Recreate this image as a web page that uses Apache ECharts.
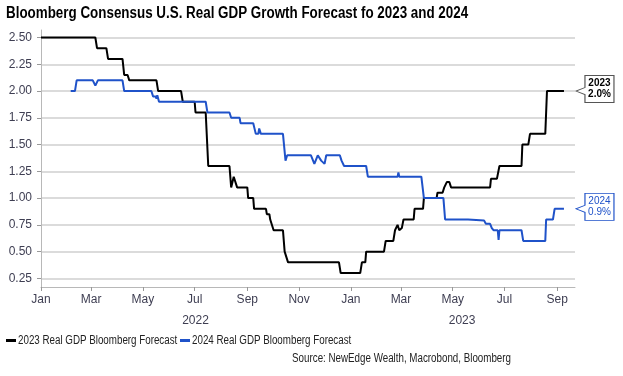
<!DOCTYPE html>
<html>
<head>
<meta charset="utf-8">
<script src="https://cdn.jsdelivr.net/npm/echarts@6/dist/echarts.min.js"></script>
<style>
  html, body { margin: 0; padding: 0; background: #fff; }
  #main { width: 623px; height: 376px; }
</style>
</head>
<body>
<div id="main"></div>
<script>
// consensus forecasts (step data)
var seriesNames = ['2023 Real GDP Bloomberg Forecast', '2024 Real GDP Bloomberg Forecast'];
var calloutYears = ['2023', '2024'];

var gdp2023 = [
  ['2022-01-01', 2.5], ['2022-03-06', 2.5], ['2022-03-08', 2.4], ['2022-03-19', 2.4], ['2022-03-21', 2.3],
  ['2022-04-07', 2.3], ['2022-04-09', 2.15], ['2022-04-13', 2.15], ['2022-04-15', 2.1],
  ['2022-05-17', 2.1], ['2022-05-19', 2.0], ['2022-06-15', 2.0], ['2022-06-17', 1.9],
  ['2022-07-01', 1.9], ['2022-07-02', 1.8], ['2022-07-14', 1.8], ['2022-07-17', 1.3],
  ['2022-08-11', 1.3], ['2022-08-13', 1.1], ['2022-08-15', 1.1], ['2022-08-16', 1.2], ['2022-08-18', 1.2], ['2022-08-20', 1.1],
  ['2022-09-01', 1.1], ['2022-09-02', 1.0], ['2022-09-08', 1.0], ['2022-09-09', 0.9],
  ['2022-09-23', 0.9], ['2022-09-24', 0.85], ['2022-09-27', 0.85], ['2022-09-28', 0.8], ['2022-09-30', 0.8], ['2022-10-02', 0.7],
  ['2022-10-13', 0.7], ['2022-10-15', 0.5], ['2022-10-17', 0.5], ['2022-10-19', 0.4],
  ['2022-12-18', 0.4], ['2022-12-20', 0.3], ['2023-01-12', 0.3], ['2023-01-14', 0.4], ['2023-01-18', 0.4], ['2023-01-19', 0.5],
  ['2023-02-09', 0.5], ['2023-02-11', 0.6], ['2023-02-20', 0.6], ['2023-02-22', 0.7], ['2023-02-24', 0.7], ['2023-02-25', 0.75],
  ['2023-02-27', 0.7], ['2023-03-02', 0.72], ['2023-03-04', 0.8], ['2023-03-16', 0.8], ['2023-03-17', 0.9],
  ['2023-03-27', 0.9], ['2023-03-28', 1.0], ['2023-04-12', 1.0], ['2023-04-13', 1.05], ['2023-04-19', 1.05], ['2023-04-21', 1.1],
  ['2023-04-24', 1.15], ['2023-04-27', 1.15], ['2023-04-29', 1.1], ['2023-06-14', 1.1], ['2023-06-15', 1.18],
  ['2023-06-22', 1.18], ['2023-06-25', 1.3], ['2023-07-21', 1.3], ['2023-07-22', 1.5], ['2023-07-29', 1.5], ['2023-07-31', 1.6],
  ['2023-08-18', 1.6], ['2023-08-20', 2.0], ['2023-09-09', 2.0]
];

var gdp2024 = [
  ['2022-02-05', 2.0], ['2022-02-10', 2.0], ['2022-02-12', 2.1], ['2022-03-03', 2.1], ['2022-03-06', 2.05], ['2022-03-09', 2.1],
  ['2022-04-07', 2.1], ['2022-04-09', 2.0], ['2022-05-11', 2.0], ['2022-05-13', 1.95], ['2022-05-16', 1.95], ['2022-05-17', 1.93],
  ['2022-05-18', 1.96], ['2022-05-20', 1.9], ['2022-07-14', 1.9], ['2022-07-16', 1.8], ['2022-08-11', 1.8], ['2022-08-13', 1.75],
  ['2022-08-23', 1.75], ['2022-08-24', 1.7], ['2022-09-08', 1.7], ['2022-09-11', 1.6], ['2022-09-14', 1.6], ['2022-09-15', 1.65],
  ['2022-09-17', 1.6], ['2022-10-13', 1.6], ['2022-10-16', 1.35], ['2022-10-18', 1.4], ['2022-11-15', 1.4], ['2022-11-19', 1.32],
  ['2022-11-23', 1.4], ['2022-11-27', 1.35], ['2022-12-01', 1.32], ['2022-12-03', 1.4], ['2022-12-19', 1.4], ['2022-12-21', 1.35],
  ['2022-12-24', 1.3], ['2023-01-19', 1.3], ['2023-01-21', 1.2], ['2023-02-25', 1.2], ['2023-02-26', 1.24], ['2023-02-27', 1.2],
  ['2023-03-25', 1.2], ['2023-03-28', 1.0], ['2023-04-20', 1.0], ['2023-04-22', 0.8], ['2023-05-19', 0.8], ['2023-05-20', 0.79],
  ['2023-06-07', 0.79], ['2023-06-09', 0.76], ['2023-06-14', 0.76], ['2023-06-16', 0.72], ['2023-06-18', 0.7], ['2023-06-23', 0.7],
  ['2023-06-24', 0.61], ['2023-06-25', 0.7], ['2023-07-21', 0.7], ['2023-07-23', 0.6], ['2023-08-18', 0.6], ['2023-08-19', 0.8],
  ['2023-08-27', 0.8], ['2023-08-29', 0.9], ['2023-09-09', 0.9]
];

var monthTicks = ['2022-01-01', '2022-03-01', '2022-05-01', '2022-07-01', '2022-09-01', '2022-11-01',
  '2023-01-01', '2023-03-01', '2023-05-01', '2023-07-01', '2023-09-01'];
var monthLabels = ['Jan', 'Mar', 'May', 'Jul', 'Sep', 'Nov', 'Jan', 'Mar', 'May', 'Jul', 'Sep'];
var yearTicks = ['2022-07-02', '2023-05-12'];
var yearLabels = ['2022', '2023'];
var yTicks = [0.25, 0.5, 0.75, 1.0, 1.25, 1.5, 1.75, 2.0, 2.25, 2.5];

var titleText = 'Bloomberg Consensus U.S. Real GDP Growth Forecast fo 2023 and 2024';
var sourceText = 'Source: NewEdge Wealth, Macrobond, Bloomberg';

var xMin = '2022-01-01', xMax = '2023-09-22';
var colors = ['#000000', '#1f52c9'];
var regular = '"Liberation Sans", Arial, sans-serif';
var labelColor = '#3e3e52';
var squeeze = 0.815; // the reference uses a narrow face

function ts(d) { return new Date(d + 'T00:00:00Z').getTime(); }
var monthTs = monthTicks.map(ts);
var yearTs = yearTicks.map(ts);

var callout = 'path://M9 0 H38 V27 H9 V19 L0 15.5 L9 12 Z';

function makeSeries(i, data, bold) {
  var pts = data.map(function (d) { return [ts(d[0]), d[1]]; });
  var last = pts[pts.length - 1];
  return {
    name: seriesNames[i],
    type: 'line',
    data: pts,
    showSymbol: false,
    color: colors[i],
    lineStyle: { width: 2, color: colors[i] },
    markPoint: {
      symbol: callout,
      symbolSize: [38, 27],
      symbolKeepAspect: false,
      symbolOffset: [31, -2],
      itemStyle: { color: '#fff', borderColor: i === 0 ? '#555' : colors[i], borderWidth: 1 },
      label: {
        show: true,
        position: 'inside',
        offset: [4.5, 0],
        formatter: calloutYears[i] + '\n' + last[1].toFixed(1) + '%',
        fontFamily: regular,
        fontSize: 10,
        lineHeight: 11,
        fontWeight: bold ? 'bold' : 'normal',
        color: colors[i]
      },
      data: [{ coord: last }]
    }
  };
}

function legendItem(i, x) {
  return [
    { type: 'rect', left: x, top: 339, shape: { width: 10, height: 3 }, style: { fill: colors[i] } },
    {
      type: 'text', x: x + 12, y: 341, scaleX: squeeze,
      style: { text: seriesNames[i], fontFamily: regular, fontSize: 12, fill: '#222', verticalAlign: 'middle' }
    }
  ];
}

var chart = echarts.init(document.getElementById('main'));
chart.setOption({
  animation: false,
  grid: { left: 41, right: 48, top: 30, bottom: 89 },
  graphic: [
    {
      type: 'text', x: 6, y: 14, scaleX: 0.837,
      style: { text: titleText, fontFamily: regular, fontSize: 16, fontWeight: 'bold', fill: '#000', verticalAlign: 'middle' }
    },
    {
      type: 'text', x: 511, y: 359, scaleX: squeeze,
      style: { text: sourceText, fontFamily: regular, fontSize: 12, fill: '#222', align: 'right', verticalAlign: 'middle' }
    }
  ].concat(legendItem(0, 6), legendItem(1, 180)),
  xAxis: [{
    type: 'value', min: ts(xMin), max: ts(xMax),
    axisLine: { lineStyle: { color: '#b8b8b8', width: 1 } },
    axisTick: { show: true, length: 4, customValues: monthTs, lineStyle: { color: '#999' } },
    axisLabel: {
      customValues: monthTs, margin: 7,
      fontFamily: regular, fontSize: 12, color: labelColor,
      formatter: function (v) { return monthLabels[monthTs.indexOf(v)]; }
    },
    splitLine: { show: false }
  }, {
    type: 'value', min: ts(xMin), max: ts(xMax), position: 'bottom',
    axisLine: { show: false }, axisTick: { show: false },
    axisLabel: {
      customValues: yearTs, margin: 28,
      fontFamily: regular, fontSize: 12, color: labelColor,
      formatter: function (v) { return yearLabels[yearTs.indexOf(v)]; }
    },
    splitLine: { show: false }
  }],
  yAxis: {
    type: 'value', min: 0.17, max: 2.57,
    axisLine: { show: true, lineStyle: { color: '#b8b8b8', width: 1 } },
    axisTick: { show: true, length: 4, customValues: yTicks, lineStyle: { color: '#999' } },
    axisLabel: {
      customValues: yTicks, margin: 9,
      fontFamily: regular, fontSize: 12, color: labelColor,
      formatter: function (v) { return v.toFixed(2); }
    },
    splitLine: { show: true, lineStyle: { color: '#cfcfcf', width: 1.5 } }
  },
  series: [makeSeries(0, gdp2023, true), makeSeries(1, gdp2024, false)]
});
</script>
</body>
</html>
